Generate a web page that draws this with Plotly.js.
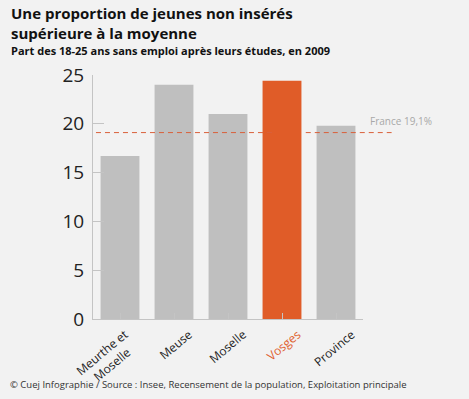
<!DOCTYPE html>
<html><head><meta charset="utf-8">
<script src="https://cdn.plot.ly/plotly-3.0.1.min.js"></script>
<style>html,body{margin:0;padding:0;background:#f2f2f2;}#chart{width:469px;height:399px;}</style>
</head><body><div id="chart"></div>
<script>
const categories = ["Meurthe et Moselle", "Meuse", "Moselle", "Vosges", "Province"];
const tickLabels = ["Meurthe et<br>Moselle", "Meuse", "Moselle", "Vosges", "Province"];
const values = [16.7, 24.0, 21.0, 24.4, 19.8];
const highlight = "Vosges";
const franceValue = 19.1;
const franceLabel = "France 19,1%";
const titleLines = ["Une proportion de jeunes non insérés", "supérieure à la moyenne"];
const subtitle = "Part des 18-25 ans sans emploi après leurs études, en 2009";
const footer = "© Cuej Infographie / Source : Insee, Recensement de la population, Exploitation principale";

const grey = "#bfbfbf", orange = "#e05c28";
const colors = categories.map(c => c === highlight ? orange : grey);
const hiIdx = categories.indexOf(highlight);

const trace = {
  type: "bar", x: categories.map((c, i) => i), y: values,
  marker: {color: colors, line: {width: 0}},
  hoverinfo: "none"
};
const lineStyle = {color: "#d9603a", width: 1, dash: "5px,4px"};
const L = 93, T = 75, PW = 270, PH = 244;
const px = v => (v - L) / PW;       // page x -> paper
const py = v => 1 + (T - v) / PH;   // page y -> paper

// rotated category labels, right end placed just right of each category centre
const FS = 12, ANG = 40 * Math.PI / 180;
const cv = document.createElement("canvas").getContext("2d");
cv.font = FS + "px 'Open Sans'";
const catAnnots = categories.map((c, i) => {
  const lines = tickLabels[i].split("<br>");
  const w = Math.max(...lines.map(s => cv.measureText(s).width));
  const h = FS + (lines.length - 1) * FS * 1.3;
  const dx = 20 - (w / 2 * Math.cos(ANG) + h / 2 * Math.sin(ANG));
  const dy = 9 + (w / 2 * Math.sin(ANG) + h / 2 * Math.cos(ANG));
  return {
    xref: "x", yref: "paper", x: i, y: 0, xanchor: "center", yanchor: "middle",
    xshift: dx, yshift: -dy, textangle: -40, align: "center", showarrow: false,
    text: tickLabels[i], font: {size: FS, color: c === highlight ? "#e0612f" : "#222"}
  };
});

const layout = {
  width: 469, height: 399,
  paper_bgcolor: "#f2f2f2", plot_bgcolor: "#f2f2f2",
  margin: {l: L, r: 469 - L - PW, t: T, b: 399 - T - PH},
  bargap: 0.28,
  showlegend: false,
  font: {family: "Open Sans, sans-serif", color: "#222"},
  xaxis: {
    range: [-0.5, categories.length - 0.5],
    tickmode: "array", tickvals: categories.map((c, i) => i), showticklabels: false,
    tickson: "boundaries",
    showline: true, linecolor: "#c4c4c4", linewidth: 1,
    ticks: "inside", ticklen: 6, tickcolor: "#c4c4c4",
    showgrid: false, zeroline: false, fixedrange: true
  },
  yaxis: {
    range: [0, 25], tickvals: [0, 5, 10, 15, 20, 25],
    tickfont: {size: 19, color: "#222"},
    showline: true, linecolor: "#c4c4c4", linewidth: 1,
    ticks: "inside", ticklen: 11, tickcolor: "#c4c4c4",
    showgrid: false, zeroline: false, ticklabelstandoff: 4
  },
  shapes: [
    {type: "line", xref: "paper", yref: "y", x0: 0.011, x1: (hiIdx + 0.5) / categories.length - 0.03, y0: franceValue, y1: franceValue, line: lineStyle, layer: "above"},
    {type: "line", xref: "paper", yref: "y", x0: (hiIdx + 0.5) / categories.length + 0.088, x1: 1.106, y0: franceValue, y1: franceValue, line: lineStyle, layer: "above"}
  ],
  annotations: [
    {xref: "paper", yref: "y", x: 1.02, y: franceValue, xanchor: "left", yanchor: "bottom", yshift: 3,
     text: franceLabel, showarrow: false, font: {size: 10, color: "#a8a8a8"}},
    {xref: "paper", yref: "paper", x: px(9), y: py(1), xanchor: "left", yanchor: "top",
     text: "<b>" + titleLines[0] + "</b>", showarrow: false, font: {size: 15, color: "#111"}},
    {xref: "paper", yref: "paper", x: px(9), y: py(21), xanchor: "left", yanchor: "top",
     text: "<b>" + titleLines[1] + "</b>", showarrow: false, font: {size: 15, color: "#111"}},
    {xref: "paper", yref: "paper", x: px(9), y: py(41), xanchor: "left", yanchor: "top",
     text: "<b>" + subtitle + "</b>", showarrow: false, font: {size: 11, color: "#111"}},
    {xref: "paper", yref: "paper", x: px(8), y: py(384), xanchor: "left", yanchor: "middle",
     text: footer, showarrow: false, font: {size: 9.5, color: "#333"}}
  ].concat(catAnnots)
};
Plotly.newPlot("chart", [trace], layout, {displayModeBar: false, staticPlot: true});
</script></body></html>
